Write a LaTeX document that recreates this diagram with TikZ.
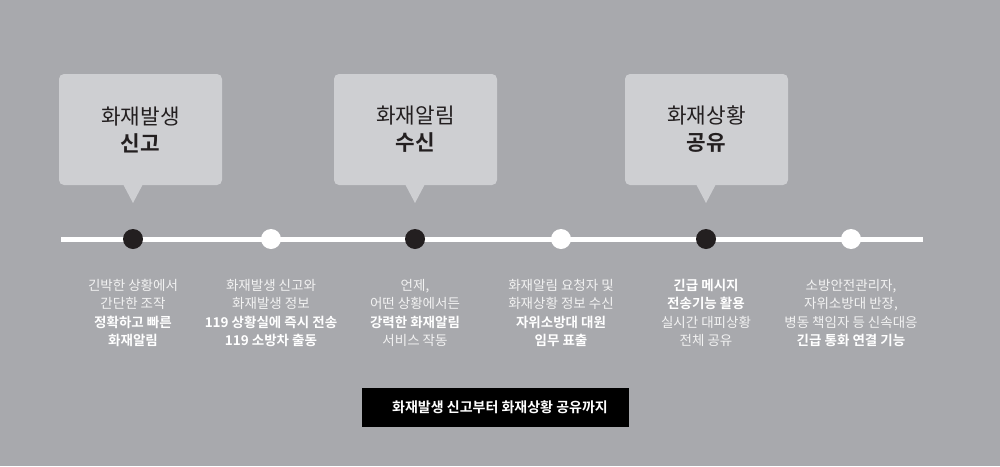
\documentclass[tikz,border=0pt]{standalone}
\usepackage{fontspec}
\usepackage{tikz}
\usetikzlibrary{positioning}
\newfontfamily\krfont{Noto Sans CJK KR}[BoldFont={Noto Sans CJK KR Bold}]
\definecolor{bggray}{HTML}{A8A9AD}
\definecolor{bubblegray}{HTML}{CECFD2}
\definecolor{dotblack}{HTML}{231F20}
\definecolor{desctext}{HTML}{F2F2F2}

\begin{document}
\begin{tikzpicture}[x=1pt, y=-1pt,
  bubble/.style={rectangle, rounded corners=5pt, fill=bubblegray, minimum width=163pt, minimum height=111pt, inner sep=0pt, align=center, text=dotblack, font=\krfont\fontsize{21.3}{27}\selectfont},
  dotdark/.style={circle, fill=dotblack, minimum size=20pt, inner sep=0pt},
  dotlight/.style={circle, fill=white, minimum size=20pt, inner sep=0pt},
  desc/.style={align=center, text=desctext, inner sep=0pt, font=\krfont\fontsize{13.5}{18.5}\selectfont},
  summary/.style={rectangle, fill=black, minimum width=267pt, minimum height=39pt, inner sep=0pt, text=white, font=\krfont\bfseries\fontsize{14}{16}\selectfont}]
  % background
  \fill[bggray] (0,0) rectangle (1000,466);
  \useasboundingbox (0,0) rectangle (1000,466);

  % timeline
  \coordinate (L) at (61,239);
  \coordinate (R) at (923,239);
  \draw[white, line width=5pt] (L) -- (R);
  \node[dotdark]  (D1) at (133,239) {};
  \node[dotlight] (D2) at (271,239) {};
  \node[dotdark]  (D3) at (415,239) {};
  \node[dotlight] (D4) at (561,239) {};
  \node[dotdark]  (D5) at (706,239) {};
  \node[dotlight] (D6) at (851,239) {};

  % bubbles
  \node[bubble] (B1) at (140.5,129.5) {화재발생\\\textbf{신고}};
  \node[bubble] (B2) at (415.5,129.5) {화재알림\\\textbf{수신}};
  \node[bubble] (B3) at (706.5,129.5) {화재상황\\\textbf{공유}};
  \coordinate (P1) at (133,203);
  \coordinate (P2) at (415,203);
  \coordinate (P3) at (706,203);
  \fill[bubblegray] (P1) -- ++(-10,-19) -- ++(20,0) -- cycle;
  \fill[bubblegray] (P2) -- ++(-10,-19) -- ++(20,0) -- cycle;
  \fill[bubblegray] (P3) -- ++(-10,-19) -- ++(20,0) -- cycle;

  % descriptions
  \node[desc, below=29.5pt of D1] (T1) {긴박한 상황에서\\간단한 조작\\\textbf{\color{white}정확하고 빠른}\\\textbf{\color{white}화재알림}};
  \node[desc, below=29.5pt of D2] (T2) {화재발생 신고와\\화재발생 정보\\\textbf{\color{white}119 상황실에 즉시 전송}\\\textbf{\color{white}119 소방차 출동}};
  \node[desc, below=29.5pt of D3] (T3) {언제,\\어떤 상황에서든\\\textbf{\color{white}강력한 화재알림}\\서비스 작동};
  \node[desc, below=29.5pt of D4] (T4) {화재알림 요청자 및\\화재상황 정보 수신\\\textbf{\color{white}자위소방대 대원}\\\textbf{\color{white}임무 표출}};
  \node[desc, below=29.5pt of D5] (T5) {\textbf{\color{white}긴급 메시지}\\\textbf{\color{white}전송기능 활용}\\실시간 대피상황\\전체 공유};
  \node[desc, below=29.5pt of D6] (T6) {소방안전관리자,\\자위소방대 반장,\\병동 책임자 등 신속대응\\\textbf{\color{white}긴급 통화 연결 기능}};

  % summary
  \node[summary] (S) at (495.5,407.5) {\hspace{9pt}화재발생 신고부터 화재상황 공유까지};
\end{tikzpicture}
\end{document}
